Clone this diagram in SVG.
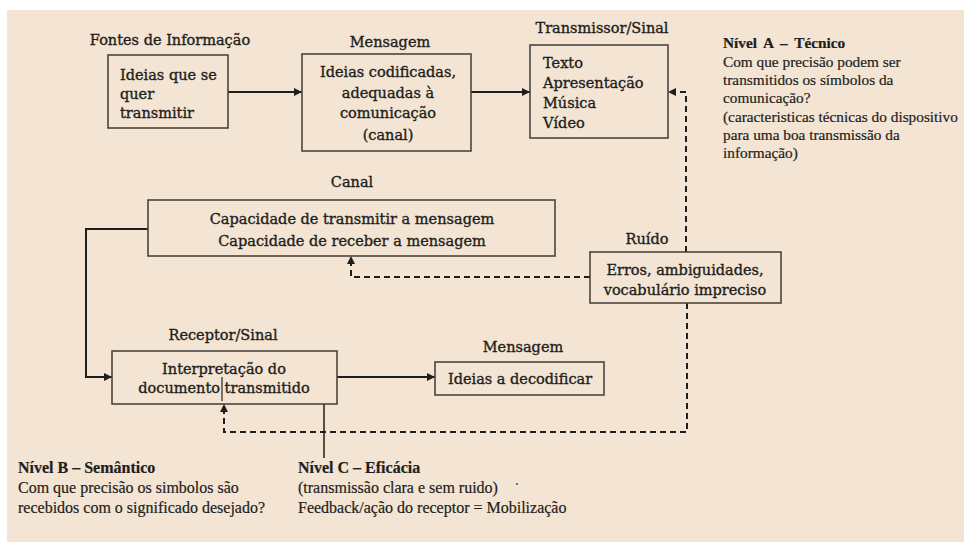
<svg xmlns="http://www.w3.org/2000/svg" width="964" height="542" viewBox="0 0 964 542">
<defs>
<marker id="ah" viewBox="0 0 10 10" refX="10" refY="5" markerWidth="9" markerHeight="8" markerUnits="userSpaceOnUse" orient="auto">
<path d="M0,0 L10,5 L0,10 z" fill="#1e1e1e"/>
</marker>
<style>
.box{fill:#f3e4d4;stroke:#4a4540;stroke-width:1.6}
.t{font-family:"DejaVu Serif","Liberation Serif",serif;font-size:14.5px;fill:#221e1b;stroke:#221e1b;stroke-width:0.35}
.m{text-anchor:middle}
.n{font-family:"Liberation Serif","Times New Roman",serif;fill:#221e1b;stroke:#221e1b;stroke-width:0.2}
.a{font-size:15.3px}
.c{font-size:16px}
.b{font-weight:bold}
.solid{fill:none;stroke:#1e1e1e;stroke-width:2}
.dash{fill:none;stroke:#1e1e1e;stroke-width:2;stroke-dasharray:6 4}
</style>
</defs>
<rect x="0" y="0" width="964" height="542" fill="#ffffff"/>
<rect x="7" y="10" width="957" height="532" fill="#f3e4d4"/>

<g id="connectors">
<path class="solid" d="M228,92 H302" marker-end="url(#ah)"/>
<path class="solid" d="M471,92 H530" marker-end="url(#ah)"/>
<path class="dash" d="M686,252 V92 H668" marker-end="url(#ah)"/>
<path class="dash" d="M590,277 H351 V256" marker-end="url(#ah)"/>
<path class="solid" d="M148,229 H86 V377 H112" marker-end="url(#ah)"/>
<path class="solid" d="M337,377 H435" marker-end="url(#ah)"/>
<path class="dash" d="M687,303 V432 H224 V404" marker-end="url(#ah)"/>
<path class="solid" style="stroke-width:1.5" d="M324,404 V458"/>
</g>

<g id="fontes">
<text class="t m" x="170" y="45">Fontes de Informação</text>
<rect class="box" x="108" y="55" width="120" height="73"/>
<text class="t" x="120" y="80">Ideias que se</text>
<text class="t" x="120" y="99">quer</text>
<text class="t" x="120" y="118">transmitir</text>
</g>

<g id="mensagem1">
<text class="t m" x="390" y="47">Mensagem</text>
<rect class="box" x="302" y="54" width="169" height="97"/>
<text class="t m" x="388" y="77">Ideias codificadas,</text>
<text class="t m" x="388" y="98">adequadas à</text>
<text class="t m" x="388" y="118">comunicação</text>
<text class="t m" x="388" y="140">(canal)</text>
</g>

<g id="transmissor">
<text class="t m" x="602" y="33">Transmissor/Sinal</text>
<rect class="box" x="530" y="45" width="138" height="93"/>
<text class="t" x="543" y="68">Texto</text>
<text class="t" x="543" y="88">Apresentação</text>
<text class="t" x="543" y="108">Música</text>
<text class="t" x="543" y="128">Vídeo</text>
</g>

<g id="nivelA">
<text class="n a b" x="723" y="48" style="word-spacing:3px">Nível A – Técnico</text>
<text class="n a" x="723" y="67">Com que precisão podem ser</text>
<text class="n a" x="723" y="85">transmitidos os símbolos da</text>
<text class="n a" x="723" y="103">comunicação?</text>
<text class="n a" x="723" y="122">(caracteristicas técnicas do dispositivo</text>
<text class="n a" x="723" y="140">para uma boa transmissão da</text>
<text class="n a" x="723" y="158">informação)</text>
</g>

<g id="canal">
<text class="t m" x="352" y="187">Canal</text>
<rect class="box" x="148" y="200" width="407" height="56"/>
<text class="t m" x="352" y="224">Capacidade de transmitir a mensagem</text>
<text class="t m" x="352" y="246">Capacidade de receber a mensagem</text>
</g>

<g id="ruido">
<text class="t m" x="647" y="244">Ruído</text>
<rect class="box" x="590" y="252" width="191" height="51"/>
<text class="t m" x="685" y="275">Erros, ambiguidades,</text>
<text class="t m" x="685" y="295">vocabulário impreciso</text>
</g>

<g id="receptor">
<text class="t m" x="223" y="340">Receptor/Sinal</text>
<rect class="box" x="112" y="351" width="225" height="53"/>
<text class="t m" x="224" y="374">Interpretação do</text>
<text class="t m" x="224" y="393">documento transmitido</text>
<path d="M222,377 V401" stroke="#2a2522" stroke-width="1.2"/>
</g>

<g id="mensagem2">
<text class="t m" x="523" y="352">Mensagem</text>
<rect class="box" x="435" y="362" width="169" height="33"/>
<text class="t m" x="520" y="384">Ideias a decodificar</text>
</g>

<g id="nivelB">
<text class="n c b" x="18" y="473">Nível B – Semântico</text>
<text class="n c" x="18" y="493">Com que precisão os simbolos são</text>
<text class="n c" x="18" y="513">recebidos com o significado desejado?</text>
</g>

<g id="nivelC">
<text class="n c b" x="298" y="473">Nível C – Eficácia</text>
<text class="n c" x="298" y="493">(transmissão clara e sem ruido)</text>
<circle cx="517" cy="484" r="1.1" fill="#555"/>
<text class="n c" x="298" y="513">Feedback/ação do receptor = Mobilização</text>
</g>
</svg>
